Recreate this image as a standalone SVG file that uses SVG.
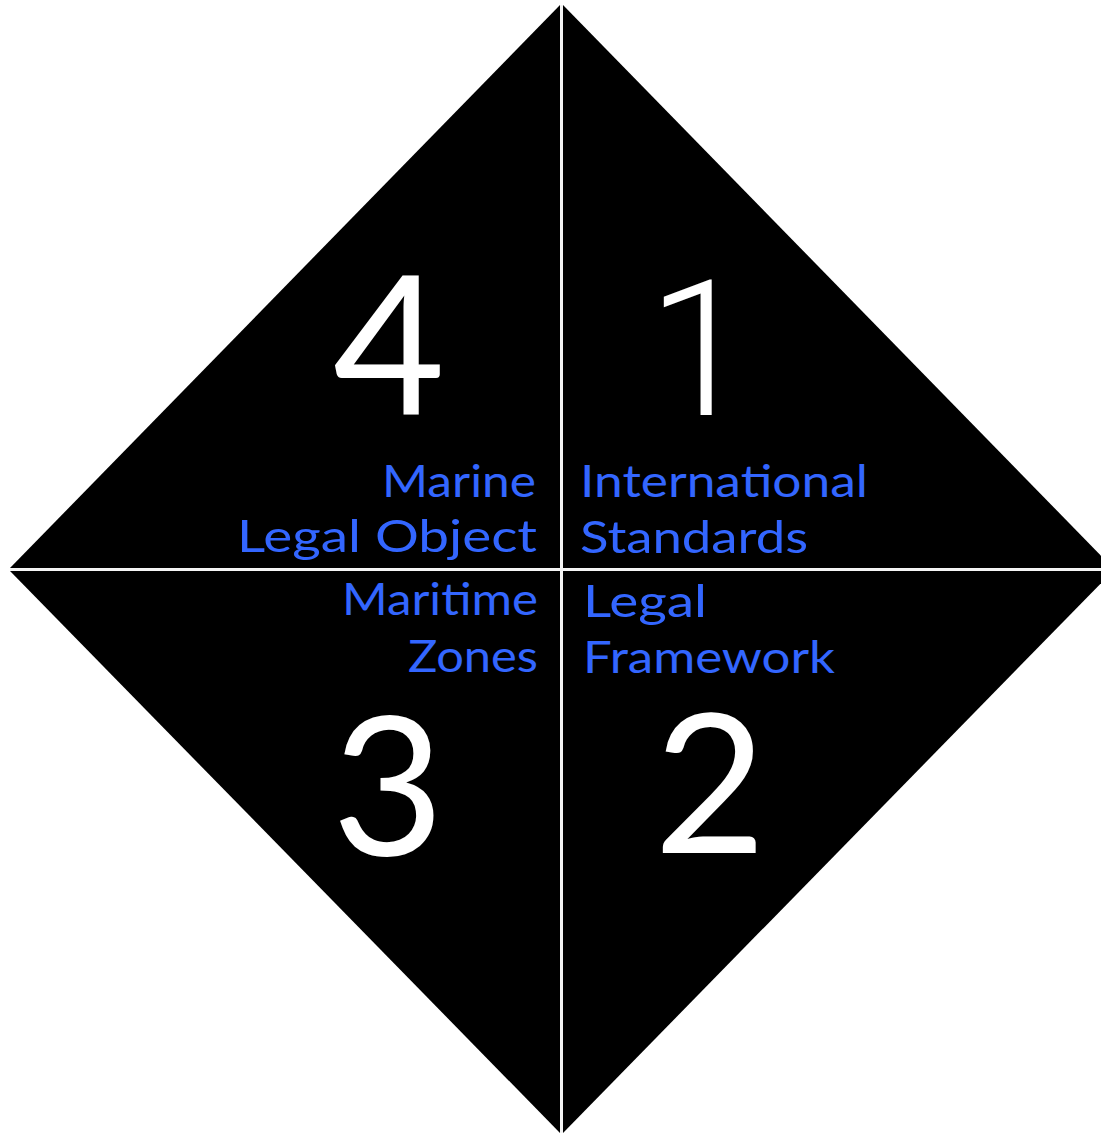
<svg xmlns="http://www.w3.org/2000/svg" width="1101" height="1135" viewBox="0 0 1101 1135">
<style>
.tri{fill:#000}
.sep{stroke:#f2f2f2;stroke-width:2.5;fill:none}
.lbl{font-family:Lato,"Liberation Sans",sans-serif;font-size:44px;fill:#3366ff}
.num{font-family:Lato,"Liberation Sans",sans-serif;font-size:194px;fill:#fff;text-anchor:middle}
.num1{font-family:Roboto,"Open Sans",sans-serif;font-size:190px;fill:#fff;text-anchor:middle;font-weight:300}
</style>
<rect width="1101" height="1135" fill="#fff"/>
<g id="quadrant-4">
<polygon class="tri" points="10,568 560,5 560,568"/>
<text class="num" x="389" y="415">4</text>
<text class="lbl" x="382" y="497" textLength="154" lengthAdjust="spacingAndGlyphs">Marine</text>
<text class="lbl" x="237" y="552" textLength="300" lengthAdjust="spacingAndGlyphs">Legal Object</text>
</g>
<g id="quadrant-1">
<polygon class="tri" points="563,5 1113,568 563,568"/>
<text class="num1" x="700" y="415">1</text>
<text class="lbl" x="580" y="497" textLength="288" lengthAdjust="spacingAndGlyphs">International</text>
<text class="lbl" x="580" y="553" textLength="228" lengthAdjust="spacingAndGlyphs">Standards</text>
</g>
<g id="quadrant-3">
<polygon class="tri" points="10,571 560,571 560,1133"/>
<text class="num" x="388" y="855">3</text>
<text class="lbl" x="342" y="615" textLength="196" lengthAdjust="spacingAndGlyphs">Maritime</text>
<text class="lbl" x="408" y="672" textLength="130" lengthAdjust="spacingAndGlyphs">Zones</text>
</g>
<g id="quadrant-2">
<polygon class="tri" points="563,571 1113,571 563,1133"/>
<text class="num" x="710" y="853">2</text>
<text class="lbl" x="583" y="617" textLength="124" lengthAdjust="spacingAndGlyphs">Legal</text>
<text class="lbl" x="583" y="673" textLength="252" lengthAdjust="spacingAndGlyphs">Framework</text>
</g>
<g id="connectors">
<line class="sep" x1="561.5" y1="5" x2="561.5" y2="1133"/>
<line class="sep" x1="10" y1="569.5" x2="1101" y2="569.5"/>
</g>
</svg>
